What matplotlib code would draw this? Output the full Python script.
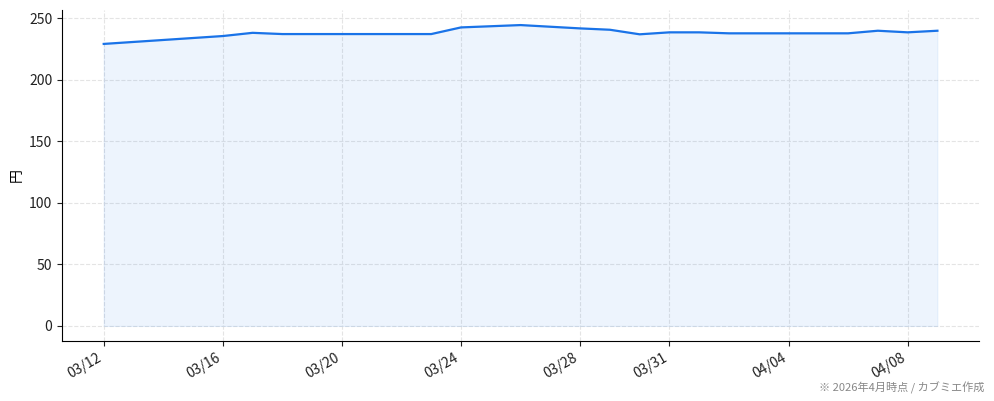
import numpy as np
import pandas as pd
import matplotlib
matplotlib.use("Agg")
from matplotlib import pyplot as plt
import matplotlib.dates as mdates

plt.rcParams['font.family'] = ['Noto Sans CJK JP', 'DejaVu Sans']

# values
dates = ["2026-03-12", "2026-03-16", "2026-03-17", "2026-03-18", "2026-03-23",
         "2026-03-24", "2026-03-26", "2026-03-28", "2026-03-29", "2026-03-30",
         "2026-03-31", "2026-04-01", "2026-04-02", "2026-04-06", "2026-04-07",
         "2026-04-08", "2026-04-09"]
prices = [229.0, 235.4, 238.0, 237.0, 237.0,
          242.4, 244.3, 241.6, 240.5, 236.8,
          238.4, 238.4, 237.6, 237.6, 239.7,
          238.4, 239.7]
tick_dates = ["2026-03-12", "2026-03-16", "2026-03-20", "2026-03-24",
              "2026-03-28", "2026-03-31", "2026-04-04", "2026-04-08"]
y_ticks = [0, 50, 100, 150, 200, 250]

x = pd.to_datetime(dates)
color_line = "#1a73e8"

fig = plt.figure(figsize=(9.94, 4.01), dpi=100)
ax = fig.add_axes([0.0624, 0.1496, 0.9226, 0.8254])

ax.fill_between(x, prices, 0, color=color_line, alpha=0.08, linewidth=0.8)
ax.plot(x, prices, color=color_line, linewidth=1.6)

ax.set_xticks(pd.to_datetime(tick_dates))
ax.xaxis.set_major_formatter(mdates.DateFormatter("%m/%d"))
ax.set_yticks(y_ticks)
ax.tick_params(axis="both", labelsize=10, colors="#222222")
for lbl in ax.get_xticklabels():
    lbl.set_rotation(30)
    lbl.set_ha("right")

ax.set_ylabel("円", fontsize=10)
ax.grid(True, linestyle="--", color="#e4e4e4", linewidth=0.8)
ax.set_axisbelow(True)
ax.spines["top"].set_visible(False)
ax.spines["right"].set_visible(False)

fig.text(0.99, 0.018, "※ 2026年4月時点 / カブミエ作成", ha="right", va="bottom",
         fontsize=8, color="#888888")

fig.savefig("out.png", dpi=100)
